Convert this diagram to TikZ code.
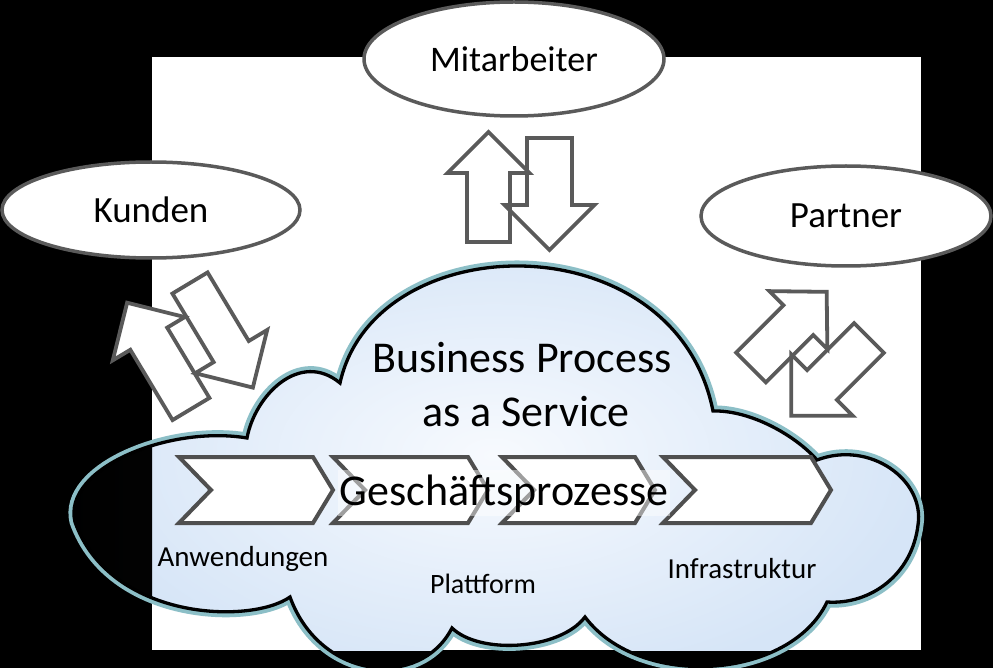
\documentclass[tikz,border=0pt]{standalone}
\usepackage{fontspec}
\setmainfont{Carlito}
\usetikzlibrary{shapes.geometric}
\definecolor{outlinegray}{HTML}{5A5A5A}
\definecolor{cloudteal}{HTML}{8CBFC7}
\definecolor{cloudin}{HTML}{F7FAFE}
\definecolor{cloudout}{HTML}{D6E5F7}
\definecolor{chevgray}{HTML}{4F4F4F}
\newcommand{\cloudpath}{(290,597) .. controls (250,625) and (110,620) .. (75,522)
  .. controls (62,468) and (170,425) .. (247,438)
  .. controls (255,395) and (300,350) .. (340,383)
  .. controls (375,225) and (675,220) .. (713,411)
  .. controls (750,410) and (795,435) .. (817,460)
  .. controls (870,440) and (925,480) .. (918,525)
  .. controls (912,575) and (870,605) .. (827,602)
  .. controls (790,680) and (640,690) .. (585,617)
  .. controls (560,650) and (480,655) .. (452,628)
  .. controls (420,690) and (320,680) .. (290,597) -- cycle}
\newcommand{\blkarrow}[4]{(-#2,0) -- (#2,0) -- (#2,{-(#1-#4)}) -- (#3,{-(#1-#4)}) -- (0,-#1) -- (-#3,{-(#1-#4)}) -- (-#2,{-(#1-#4)}) -- cycle}
\newcommand{\chevronpath}[2]{(#1,457) -- ({#1+#2-20},457) -- ({#1+#2},490) -- ({#1+#2-20},523) -- (#1,523) -- ({#1+32},490) -- cycle}
\begin{document}
\begin{tikzpicture}[x=1pt,y=-1pt,
  party/.style={ellipse, draw=outlinegray, line width=3.5pt, fill=white, inner sep=0pt, text=black},
  arrowfill/.style={fill=white},
  arrowline/.style={draw=outlinegray, line width=3.8pt, line join=miter},
  chev/.style={draw=chevgray, line width=4pt, fill=white, line join=miter},
  bigtxt/.style={font=\fontsize{44}{48}\selectfont, text=black, inner sep=0pt},
  smalltxt/.style={font=\fontsize{29}{32}\selectfont, text=black, inner sep=0pt}]
\useasboundingbox (0,0) rectangle (993,668);
\fill[black] (0,0) rectangle (993,668);
\fill[white] (152,57) rectangle (921,650);
% cloud
\draw[cloudteal, line width=11pt] \cloudpath;
\fill[black] \cloudpath;
\begin{scope}
  \clip (152,57) rectangle (921,650);
  \shade[inner color=cloudin, outer color=cloudout] \cloudpath;
\end{scope}
\begin{scope}
  \clip (60,400) rectangle (152,650);
  \shade[left color=black, right color=black!75!cloudout!40!black] \cloudpath;
\end{scope}
\draw[black, line width=3.3pt] \cloudpath;
% arrow fills
\fill[arrowfill, shift={(488.5,242)}] \blkarrow{110}{21.5}{41}{41};
\fill[arrowfill, shift={(549.5,138)}, rotate=180] \blkarrow{112}{22.5}{45}{45};
\fill[arrowfill, shift={(191,409)}, rotate=31] \blkarrow{124}{21.5}{42}{42};
\fill[arrowfill, shift={(190,283)}, rotate=211] \blkarrow{122}{20.5}{42}{42};
\fill[arrowfill, shift={(751,367.5)}, rotate=-45] \blkarrow{107}{21}{41}{40};
\fill[arrowfill, shift={(869,338)}, rotate=135] \blkarrow{110}{21}{43.5}{43.5};
% arrow outlines
\draw[arrowline, shift={(488.5,242)}] \blkarrow{110}{21.5}{41}{41};
\draw[arrowline, shift={(549.5,138)}, rotate=180] \blkarrow{112}{22.5}{45}{45};
\draw[arrowline, shift={(191,409)}, rotate=31] \blkarrow{124}{21.5}{42}{42};
\draw[arrowline, shift={(190,283)}, rotate=211] \blkarrow{122}{20.5}{42}{42};
\draw[arrowline, shift={(751,367.5)}, rotate=-45] \blkarrow{107}{21}{41}{40};
\draw[arrowline, shift={(869,338)}, rotate=135] \blkarrow{110}{21}{43.5}{43.5};
% ellipses
\node[party, minimum width=300pt, minimum height=114pt, font=\fontsize{36}{40}\selectfont] (mitarbeiter) at (514,59) {Mitarbeiter};
\node[party, minimum width=298pt, minimum height=96pt, font=\fontsize{37}{40}\selectfont] (kunden) at (151,210) {Kunden};
\node[party, minimum width=290pt, minimum height=100pt, font=\fontsize{37}{40}\selectfont] (partner) at (846,216) {Partner};
% chevrons
\draw[chev] \chevronpath{179}{154};
\draw[chev] \chevronpath{333}{155};
\draw[chev] \chevronpath{502}{153};
\draw[chev] \chevronpath{663}{168};
% texts
\node[bigtxt, anchor=base] (bp) at (522,372) {Business Process};
\node[bigtxt, anchor=base] (aas) at (526,426) {as a Service};
\node[bigtxt, anchor=base, fill=white, fill opacity=0.45, text opacity=1, inner xsep=2pt, inner ysep=4pt] (gp) at (504,505) {Geschäftsprozesse};
\node[smalltxt, anchor=base] (anw) at (243,566) {Anwendungen};
\node[smalltxt, anchor=base, font=\fontsize{28}{32}\selectfont] (plat) at (483,593) {Plattform};
\node[smalltxt, anchor=base] (infra) at (742,578) {Infrastruktur};
\end{tikzpicture}
\end{document}
